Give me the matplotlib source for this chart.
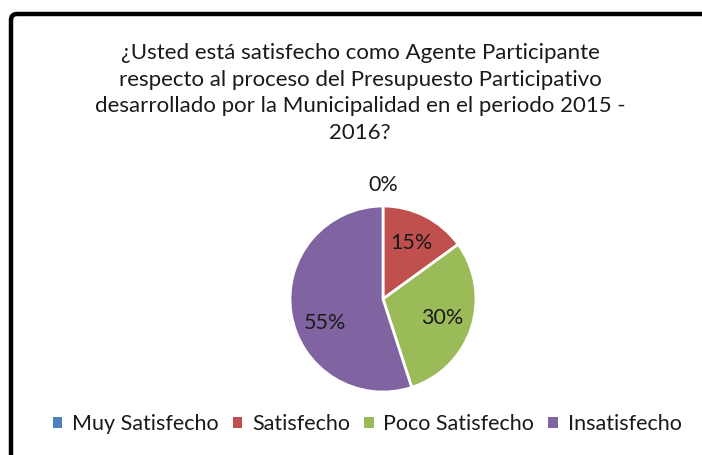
import matplotlib.pyplot as plt
from matplotlib.patches import FancyBboxPatch

categorias = ['Muy Satisfecho', 'Satisfecho', 'Poco Satisfecho', 'Insatisfecho']
porcentajes = [0, 15, 30, 55]
colores = ['#4F81BD', '#C0504D', '#9BBB59', '#8064A2']
titulo = ('¿Usted está satisfecho como Agente Participante\n'
          'respecto al proceso del Presupuesto Participativo\n'
          'desarrollado por la Municipalidad en el periodo 2015 -\n'
          '2016?')

plt.rcParams['font.family'] = ['Lato', 'DejaVu Sans']

W, H = 702, 455
fig = plt.figure(figsize=(W / 100, H / 100), dpi=100)
ax = fig.add_axes([0, 0, 1, 1])

# marco del grafico
marco = FancyBboxPatch((11, -40), W + 40, H - 12 + 40 - 2,
                       boxstyle='round,pad=0,rounding_size=6',
                       fill=False, edgecolor='black', linewidth=3.2)
ax.add_patch(marco)

# titulo
ax.text(360, H - 93, titulo, ha='center', va='center', fontsize=16,
        linespacing=1.42, color='#1a1a1a')

# pastel
cx, cy, r = 383, H - 299, 93
wedges, textos, autotextos = ax.pie(
    porcentajes, colors=colores, startangle=90, counterclock=False,
    center=(cx, cy), radius=r, autopct='%d%%', pctdistance=0.67,
    wedgeprops=dict(edgecolor='white', linewidth=2),
    textprops=dict(fontsize=15.5, color='#1a1a1a'), frame=True)
ax.set_xlim(0, W)
ax.set_ylim(0, H)
ax.axis('off')
ax.set_aspect('equal')

# la etiqueta 0% va fuera del pastel
autotextos[0].set_position((cx, cy + 1.23 * r))
autotextos[3].set_position((cx - 58, cy - 24))

# leyenda
leg = ax.legend(wedges, categorias, loc='center', bbox_to_anchor=(367 / W, 1 - 424 / H),
                ncol=4, frameon=False, fontsize=15.5, handlelength=0.45,
                handleheight=0.45, handletextpad=0.45, columnspacing=0.65,
                borderaxespad=0)
for t in leg.get_texts():
    t.set_color('#1a1a1a')
for h in leg.legend_handles:
    h.set_edgecolor('none')

fig.savefig('out.png', dpi=100)
